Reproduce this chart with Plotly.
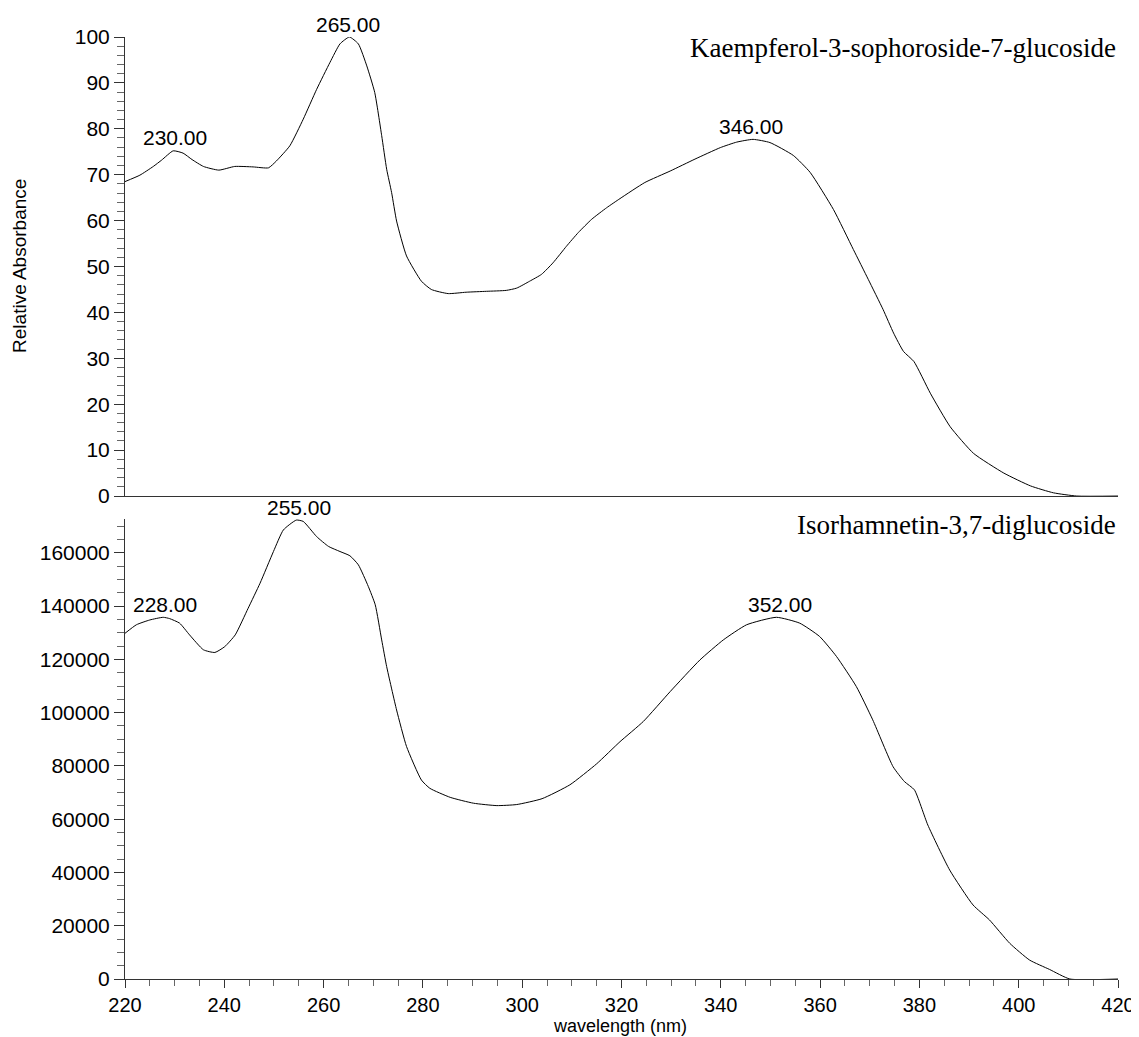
import numpy as np
import plotly.graph_objects as go

# Kaempferol-3-sophoroside-7-glucoside (relative absorbance)
k_wl = [220, 223, 225.7, 227.4, 229.7, 231.7, 233.5, 235.8, 238.9, 242.1, 245.8, 248.9, 250.5,
        253.2, 255.9, 258.6, 261.3, 263.3, 265.2, 267, 268.7, 270.3, 271.7, 272.7, 273.7, 274.7,
        276.7, 279.7, 281.7, 285.1, 288.7, 292.8, 296.8, 298.9, 301.5, 303.9, 306.2, 308.9, 311.3,
        314, 317, 319.7, 324.7, 329.8, 334.8, 339.9, 343.2, 346.5, 349.9, 354.6, 358, 362.7, 366.7,
        369.7, 372.7, 374.8, 376.8, 378.9, 382.2, 386.2, 390.9, 397, 402.4, 407, 411.7, 420]
k_val = [68.5, 69.9, 71.8, 73.2, 75.2, 74.7, 73.3, 71.8, 71.0, 71.8, 71.7, 71.5, 73.0,
         76.3, 82.1, 88.6, 94.5, 98.5, 100.0, 98.5, 93.7, 87.9, 78.5, 71.2, 66.1, 59.9,
         52.3, 46.8, 45.0, 44.1, 44.4, 44.6, 44.8, 45.3, 46.8, 48.3, 50.8, 54.4, 57.4,
         60.3, 62.8, 64.8, 68.3, 70.8, 73.4, 75.9, 77.1, 77.7, 77.0, 74.2, 70.5, 62.4, 53.7,
         47.2, 40.6, 35.5, 31.5, 29.3, 22.4, 15.1, 9.3, 5.0, 2.2, 0.7, 0.0, 0.0]
k_peaks = [230, 265, 346]

# Isorhamnetin-3,7-diglucoside (absorbance)
i_wl = [220, 222.3, 225, 227.7, 229, 231, 233, 235.8, 238.1, 240.1, 242.2, 244.8, 247.2, 249.9,
        251.9, 254.5, 255.9, 258.6, 261, 263.3, 265.3, 267, 269, 270.4, 271.7, 272.7, 274.7,
        276.7, 279.7, 281.4, 285.5, 290.2, 294.9, 298.9, 304, 309.6, 315, 319.7, 324.4, 329.8,
        335.8, 340.5, 345.2, 351.2, 355.9, 359.9, 363.3, 367.3, 370.6, 374.7, 377, 379, 381.7,
        386.1, 390.8, 394.1, 398.2, 402.2, 406.2, 410.3, 420]
i_val = [129800, 133000, 134800, 135800, 135300, 133600, 129200, 123600, 122600, 124800, 129200,
         139200, 148600, 160500, 168600, 172300, 171800, 166100, 162400, 160500, 158900, 155500,
         147400, 140500, 127300, 117300, 101000, 87300, 74700, 71600, 68200, 66000, 65100, 65500,
         67700, 72900, 80800, 89100, 96700, 107900, 119800, 127300, 133000, 135800, 133600,
         128600, 121100, 109800, 97300, 79700, 74100, 71000, 57800, 40900, 27800, 22200, 13400,
         7100, 3600, 0, 0]
i_peaks = [228, 255, 352]

names = ["Kaempferol-3-sophoroside-7-glucoside", "Isorhamnetin-3,7-diglucoside"]
x_ticks = [220, 240, 260, 280, 300, 320, 340, 360, 380, 400, 420]

SANS = "Liberation Sans, Arial, sans-serif"
SERIF = "Liberation Serif, Times New Roman, serif"
LINE = "#333333"
MINOR = "#666666"

fig = go.Figure()
fig.add_trace(go.Scatter(x=k_wl, y=k_val, mode="lines",
                         line=dict(color="black", width=1, shape="spline", smoothing=0.5),
                         xaxis="x", yaxis="y", showlegend=False, hoverinfo="skip"))
fig.add_trace(go.Scatter(x=i_wl, y=i_val, mode="lines",
                         line=dict(color="black", width=1, shape="spline", smoothing=0.5),
                         xaxis="x2", yaxis="y2", showlegend=False, hoverinfo="skip"))

annotations = []
for p in k_peaks:
    annotations.append(dict(x=p, y=float(np.interp(p, k_wl, k_val)), xref="x", yref="y",
                            text=f"{p:.2f}", showarrow=False, yanchor="bottom", yshift=0,
                            font=dict(family=SANS, size=21, color="black")))
for p in i_peaks:
    annotations.append(dict(x=p, y=float(np.interp(p, i_wl, i_val)), xref="x2", yref="y2",
                            text=f"{p:.2f}", showarrow=False, yanchor="bottom", yshift=0,
                            font=dict(family=SANS, size=21, color="black")))
annotations.append(dict(x=1, y=0.988, xref="paper", yref="paper", text=names[0], showarrow=False,
                        xanchor="right", yanchor="middle",
                        font=dict(family=SERIF, size=27, color="black")))
annotations.append(dict(x=1, y=0.482, xref="paper", yref="paper", text=names[1], showarrow=False,
                        xanchor="right", yanchor="middle",
                        font=dict(family=SERIF, size=27, color="black")))
annotations.append(dict(x=-0.1057, y=0.757, xref="paper", yref="paper", text="Relative Absorbance",
                        showarrow=False, textangle=-90, xanchor="center", yanchor="middle",
                        font=dict(family=SANS, size=19, color="black")))
annotations.append(dict(x=0.4985, y=-0.0495, xref="paper", yref="paper", text="wavelength (nm)",
                        showarrow=False, xanchor="center", yanchor="middle",
                        font=dict(family=SANS, size=18, color="black")))

common_y = dict(showline=True, linecolor=LINE, linewidth=1, ticks="outside", ticklen=10,
                tickcolor=LINE, tickwidth=1, showgrid=False, zeroline=False, tickformat="d",
                automargin=False,
                tickfont=dict(family=SANS, size=21, color="black"))

fig.update_layout(
    width=1139, height=1037,
    margin=dict(l=117, r=29, t=29, b=66),
    paper_bgcolor="white", plot_bgcolor="white",
    xaxis=dict(domain=[0, 1], range=[220, 420], anchor="y", showline=True, linecolor=LINE,
               linewidth=1, ticks="", showticklabels=False, showgrid=False, zeroline=False),
    yaxis=dict(domain=[0.5127, 1], range=[0, 100], anchor="x", tickmode="linear", tick0=0, dtick=10,
               minor=dict(dtick=2, ticks="outside", ticklen=7, tickcolor=MINOR, showgrid=False),
               **common_y),
    xaxis2=dict(domain=[0, 1], range=[220, 420], anchor="y2", showline=True, linecolor=LINE,
                linewidth=1, ticks="outside", ticklen=8, tickcolor=LINE, tickmode="array",
                tickvals=x_ticks, ticktext=[str(t) for t in x_ticks], automargin=False,
                minor=dict(dtick=5, tick0=220, ticks="outside", ticklen=6, tickcolor=MINOR,
                           showgrid=False),
                showgrid=False, zeroline=False,
                tickfont=dict(family=SANS, size=20, color="black")),
    yaxis2=dict(domain=[0, 0.4883], range=[0, 172700], anchor="x2", tickmode="linear", tick0=0,
                dtick=20000,
                minor=dict(dtick=5000, ticks="outside", ticklen=7, tickcolor=MINOR,
                           showgrid=False),
                **common_y),
    annotations=annotations,
)

fig.write_html("out.html")
